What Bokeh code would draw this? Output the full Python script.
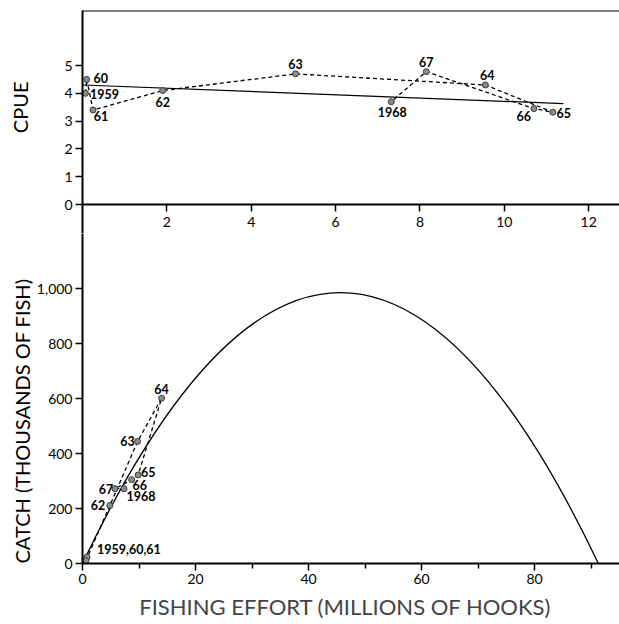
from bokeh.plotting import figure
from bokeh.layouts import column
from bokeh.models import (Range1d, LinearAxis, FixedTicker, NumeralTickFormatter,
                          ColumnDataSource, Title)
from bokeh.core.properties import value
from bokeh.embed import file_html
from bokeh.resources import INLINE

# ---------------- data ----------------
top_years = ["1959", "60", "61", "62", "63", "64", "65", "66", "67", "1968"]
top_effort = [0.07, 0.1, 0.25, 1.9, 5.05, 9.55, 11.15, 10.7, 8.15, 7.32]
top_cpue = [4.0, 4.5, 3.4, 4.1, 4.7, 4.3, 3.32, 3.45, 4.78, 3.7]

fit_effort = [0.0, 11.4]
fit_cpue = [4.3, 3.63]

bot_years = ["", "", "", "62", "63", "64", "65", "66", "67", "1968"]
bot_effort = [0.4, 0.8, 0.6, 4.85, 9.75, 14.0, 9.85, 8.7, 5.75, 7.35]
bot_catch = [15, 24, 10, 211, 444, 601, 322, 305, 272, 272]
group_label = "1959,60,61"

curve_root = 91.3   # effort at which the yield curve returns to zero
curve_peak = 985    # maximum of the yield curve (thousands of fish)

cpue_ticks = [0, 1, 2, 3, 4, 5]
top_effort_ticks = [2, 4, 6, 8, 10, 12]
catch_ticks = [0, 200, 400, 600, 800, 1000]
effort_ticks = [0, 20, 40, 60, 80]
effort_minor_ticks = [10, 30, 50, 70, 90]

# label offsets (screen pixels)
top_dx = [19, 14, 8, 0, 0, 2, 11, -10, 0, 1]
top_dy = [1, -1, 6, 11, -10, -10, 1, 7, -10, 10]
bot_dx = [0, 0, 0, -12, -10, 0, 10, 8, -9, 17]
bot_dy = [0, 0, 0, 0, 0, -9, -3, 5, 0, 7]

FONT = "Lato"
MARK_FILL = "#8c8c8c"
MARK_LINE = "#3a3a3a"
FRAME_W = 537
LEFT = 82
TOP_X_END = 12.73
CPUE_START, CPUE_END = -1.043, 6.98
X_END = 95.04
CATCH_END = 1200


def style_axis(ax, size="14px"):
    ax.axis_line_color = "black"
    ax.axis_line_width = 2
    ax.major_tick_line_color = "black"
    ax.major_tick_line_width = 1.5
    ax.major_tick_in = 0
    ax.major_tick_out = 7
    ax.minor_tick_line_color = "black"
    ax.minor_tick_line_width = 1.5
    ax.minor_tick_in = 0
    ax.minor_tick_out = 5
    ax.major_label_text_font = FONT
    ax.major_label_text_font_size = size
    ax.major_label_text_color = "black"
    ax.major_label_standoff = 3


def bare_line_axis(ax):
    ax.axis_line_color = "black"
    ax.axis_line_width = 2
    ax.major_tick_line_color = None
    ax.minor_tick_line_color = None
    ax.major_label_text_font_size = "0px"


# ================= top panel: CPUE =================
top = figure(frame_width=FRAME_W, frame_height=223,
             x_range=Range1d(0, TOP_X_END), y_range=Range1d(CPUE_START, CPUE_END),
             x_axis_type=None, y_axis_type=None,
             output_backend="svg", toolbar_location=None,
             min_border_left=LEFT, min_border_right=0,
             min_border_top=10, min_border_bottom=0)
top.outline_line_color = None

cpue_axis = LinearAxis(ticker=FixedTicker(ticks=cpue_ticks), axis_label=" ")
style_axis(cpue_axis)
cpue_axis.axis_label_text_font_size = "1px"
cpue_axis.axis_label_standoff = 26
top.add_layout(cpue_axis, "left")
top.add_layout(Title(text="CPUE", align="right", offset=71, standoff=0,
                     text_font=FONT, text_font_size="20px",
                     text_font_style="normal", text_color="black"), "left")

top_line = LinearAxis(fixed_location=CPUE_END, ticker=FixedTicker(ticks=[]))
bare_line_axis(top_line)
top.add_layout(top_line, "above")

top_effort_axis = LinearAxis(fixed_location=0, ticker=FixedTicker(ticks=top_effort_ticks))
style_axis(top_effort_axis)
top_effort_axis.major_label_standoff = 5
top.add_layout(top_effort_axis, "below")

top_src = ColumnDataSource(dict(x=top_effort, y=top_cpue, t=top_years, dx=top_dx, dy=top_dy))
top.line(fit_effort, fit_cpue, line_color="black", line_width=1.2)
top.line("x", "y", source=top_src, line_color="black", line_width=1.3, line_dash="4 3")
top.scatter("x", "y", source=top_src, size=6, fill_color=MARK_FILL,
            line_color=MARK_LINE, line_width=1)
top.text("x", "y", text="t", source=top_src, x_offset="dx", y_offset="dy",
         text_align="center", text_baseline="middle",
         text_font=value(FONT), text_font_size="12.5px", text_font_style="bold",
         text_color="black")

# ================= bottom panel: catch =================
bot = figure(frame_width=FRAME_W, frame_height=330,
             x_range=Range1d(0, X_END), y_range=Range1d(0, CATCH_END),
             x_axis_type=None, y_axis_type=None,
             output_backend="svg", toolbar_location=None,
             min_border_left=LEFT, min_border_right=0,
             min_border_top=0, min_border_bottom=61)
bot.outline_line_color = None

catch_axis = LinearAxis(ticker=FixedTicker(ticks=catch_ticks),
                        formatter=NumeralTickFormatter(format="0,0"))
style_axis(catch_axis)
bot.add_layout(catch_axis, "left")
bot.add_layout(Title(text="CATCH  (THOUSANDS OF FISH)", align="left", offset=0,
                     standoff=0, text_font=FONT, text_font_size="20px",
                     text_font_style="normal", text_color="black"), "left")

effort_axis = LinearAxis(ticker=FixedTicker(ticks=effort_ticks, minor_ticks=effort_minor_ticks),
                         axis_label="FISHING  EFFORT  (MILLIONS OF HOOKS)")
style_axis(effort_axis)
effort_axis.axis_label_text_font = FONT
effort_axis.axis_label_text_font_size = "22px"
effort_axis.axis_label_text_font_style = "normal"
effort_axis.axis_label_standoff = 6
bot.add_layout(effort_axis, "below")

bot.quadratic(x0=[0], y0=[0], x1=[curve_root], y1=[0],
              cx=[curve_root / 2], cy=[2 * curve_peak],
              line_color="black", line_width=1.3)

bot_src = ColumnDataSource(dict(x=bot_effort, y=bot_catch, t=bot_years, dx=bot_dx, dy=bot_dy))
bot.line("x", "y", source=ColumnDataSource(dict(x=bot_effort[2:], y=bot_catch[2:])),
         line_color="black", line_width=1.3, line_dash="4 3")
bot.scatter("x", "y", source=bot_src, size=6, fill_color=MARK_FILL,
            line_color=MARK_LINE, line_width=1)
bot.text("x", "y", text="t", source=bot_src, x_offset="dx", y_offset="dy",
         text_align="center", text_baseline="middle",
         text_font=value(FONT), text_font_size="12.5px", text_font_style="bold",
         text_color="black")
bot.text(x=[bot_effort[1]], y=[bot_catch[1]], text=[group_label], x_offset=10, y_offset=-8,
         text_align="left", text_baseline="middle",
         text_font=value(FONT), text_font_size="12.5px", text_font_style="bold",
         text_color="black")

layout = column(top, bot, spacing=0)
open("out.html", "w").write(file_html(layout, INLINE))
